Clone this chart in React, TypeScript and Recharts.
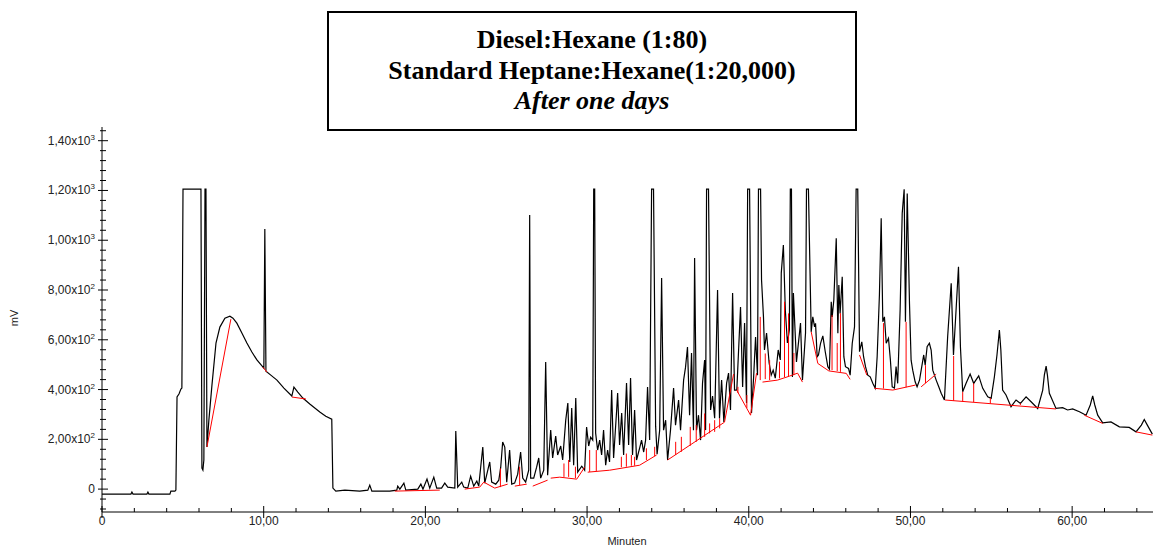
import { LineChart, Line, XAxis, YAxis } from "recharts";

/* ─── Data (retention time in min, detector signal in mV) ───── */

const traceTime = [
  0, 1.79, 1.85, 1.92, 2.78, 2.84, 2.9, 4.2, 4.26, 4.51, 4.57, 4.64, 4.76, 4.88, 4.94, 5.01,
  6.12, 6.18, 6.24, 6.3, 6.37, 6.43, 6.49, 6.61, 6.8, 7.05, 7.29, 7.6, 7.91, 8.1, 8.34, 8.65,
  8.96, 9.27, 9.58, 10.01, 10.07, 10.14, 10.44, 10.82, 11.25, 11.74, 11.87, 12.11, 12.42, 12.85,
  13.47, 13.84, 14.21, 14.28, 14.46, 15.02, 15.94, 16.44, 16.56, 16.69, 17.8, 18.23, 18.29, 18.42,
  18.67, 18.79, 19.53, 19.72, 19.85, 20.1, 20.27, 20.52, 20.7, 21.0, 21.2, 21.38, 21.82, 21.88,
  22.0, 22.25, 22.37, 22.62, 22.8, 22.99, 23.18, 23.3, 23.42, 23.55, 23.67, 23.86, 23.98, 24.1,
  24.35, 24.54, 24.66, 24.78, 24.91, 25.03, 25.21, 25.34, 25.52, 25.71, 25.89, 26.02, 26.2, 26.39,
  26.45, 26.51, 26.7, 26.88, 27.01, 27.13, 27.32, 27.44, 27.56, 27.75, 27.87, 28.06, 28.18, 28.37,
  28.49, 28.68, 28.81, 28.93, 29.05, 29.17, 29.3, 29.42, 29.67, 29.85, 29.97, 30.1, 30.22, 30.35,
  30.41, 30.47, 30.53, 30.65, 30.78, 30.9, 31.02, 31.15, 31.27, 31.39, 31.52, 31.64, 31.83, 31.89,
  32.01, 32.14, 32.26, 32.44, 32.57, 32.69, 32.81, 32.94, 33.06, 33.25, 33.37, 33.5, 33.62, 33.74,
  33.87, 33.99, 34.11, 34.24, 34.33, 34.49, 34.61, 34.73, 34.86, 34.98, 35.16, 35.35, 35.47, 35.66,
  35.78, 35.97, 36.09, 36.21, 36.34, 36.46, 36.58, 36.65, 36.77, 36.89, 37.02, 37.14, 37.27, 37.33,
  37.39, 37.51, 37.64, 37.76, 37.89, 37.95, 38.07, 38.19, 38.32, 38.46, 38.63, 38.75, 38.87, 39.0,
  39.12, 39.26, 39.49, 39.62, 39.74, 39.86, 39.93, 40.05, 40.17, 40.3, 40.42, 40.54, 40.6, 40.73,
  40.79, 40.91, 40.97, 41.1, 41.26, 41.39, 41.51, 41.64, 41.82, 41.95, 42.01, 42.14, 42.26, 42.39,
  42.51, 42.57, 42.64, 42.7, 42.76, 42.95, 43.2, 43.32, 43.51, 43.57, 43.69, 43.86, 43.96, 44.07,
  44.13, 44.23, 44.31, 44.44, 44.58, 44.73, 44.89, 44.99, 45.1, 45.16, 45.26, 45.41, 45.51, 45.57,
  45.65, 45.78, 45.88, 45.98, 46.17, 46.27, 46.4, 46.54, 46.64, 46.74, 46.85, 46.99, 47.1, 47.22,
  47.36, 47.51, 47.67, 47.82, 47.94, 48.08, 48.19, 48.29, 48.39, 48.5, 48.64, 48.76, 48.87, 49.01,
  49.11, 49.21, 49.36, 49.49, 49.61, 49.69, 49.8, 49.94, 50.04, 50.14, 50.29, 50.41, 50.56, 50.82,
  50.91, 51.03, 51.17, 51.28, 51.38, 51.59, 51.75, 51.9, 52.1, 52.3, 52.52, 52.66, 52.82, 52.97,
  53.09, 53.23, 53.44, 53.69, 53.91, 54.22, 54.47, 54.78, 54.99, 55.19, 55.35, 55.5, 55.59, 55.7,
  55.91, 56.22, 56.53, 56.8, 57.15, 57.46, 57.87, 58.18, 58.28, 58.39, 58.47, 58.59, 59.0, 59.41,
  59.72, 60.03, 60.45, 60.86, 61.12, 61.27, 61.4, 61.58, 61.89, 62.4, 62.92, 63.53, 63.95, 64.28,
  64.46, 64.65, 64.96,
];

const traceMv = [
  -20, -20, -12, -20, -20, -12, -20, -20, -8, -8, -4, 370, 382, 402, 406, 1205,
  1205, 84, 76, 117, 1205, 1205, 169, 277, 418, 587, 651, 687, 695, 687, 667, 627,
  587, 551, 519, 486, 1045, 474, 458, 438, 406, 374, 410, 390, 366, 342,
  310, 293, 281, 4, -8, -4, -8, -4, 16, -8, -8, -4, 12, 0,
  24, -4, 0, 20, 0, 40, 4, 48, 4, 4, 24, 8, 4, 233,
  8, 28, 8, 4, 52, 12, 32, 12, 88, 169, 24, 76, 109, 28,
  20, 36, 88, 189, 169, 28, 157, 20, 24, 60, 149, 44, 28, 76,
  1101, 44, 44, 88, 125, 44, 76, 511, 56, 237, 125, 213, 137, 173,
  117, 277, 346, 109, 326, 96, 366, 68, 92, 76, 249, 173, 209, 197,
  1205, 1205, 225, 157, 197, 137, 237, 96, 157, 109, 398, 125, 318, 386,
  177, 306, 137, 426, 177, 446, 137, 318, 117, 165, 197, 149, 197, 410,
  197, 1205, 1205, 253, 140, 237, 848, 237, 277, 117, 237, 406, 257, 358,
  237, 438, 490, 571, 297, 547, 237, 929, 237, 297, 197, 426, 519, 237,
  1205, 1205, 318, 374, 285, 450, 800, 284, 438, 270, 426, 466, 318, 788,
  398, 398, 732, 410, 667, 346, 1205, 1205, 306, 450, 611, 458, 1205, 1205,
  840, 691, 559, 627, 507, 458, 478, 446, 559, 519, 868, 981, 720, 587,
  639, 1205, 1205, 450, 788, 511, 667, 438, 627, 1205, 1205, 632, 692, 652,
  666, 532, 539, 586, 616, 552, 492, 482, 753, 692, 760, 1008, 626, 820,
  706, 853, 532, 492, 485, 458, 586, 652, 1205, 1205, 552, 592, 532, 492,
  458, 451, 425, 405, 532, 780, 1088, 672, 692, 586, 606, 518, 411, 406,
  492, 425, 719, 1108, 1205, 672, 1188, 746, 518, 478, 431, 411, 438, 539,
  498, 572, 586, 559, 478, 438, 411, 385, 358, 612, 827, 539, 719, 893,
  572, 391, 425, 462, 425, 455, 405, 371, 365, 451, 539, 639, 559, 398,
  378, 331, 358, 344, 371, 351, 324, 398, 458, 494, 458, 385, 324, 327,
  318, 322, 311, 297, 338, 375, 338, 297, 266, 270, 250, 248, 230, 257,
  280, 257, 221,
];

// integration baseline, null = gap between segments
const baseTime = [
  6.49, 7.97, 7.97, 9.95, 10.2, 10.2, 11.74, 12.61, 12.61, 18.11, 20.89, 20.89,
  22.43, 23.36, 23.61, 24.29, 25.09, 25.09, 25.53, 26.27, 26.27, 26.64, 27.56, 27.56,
  27.75, 28.31, 29.36, 29.85, 29.85, 30.04, 31.4, 33.25, 34.3, 34.3,
  34.98, 38.5, 39.06, 39.06, 39.25, 40.11, 40.48, 40.48,
  40.85, 41.78, 42.52, 43.02, 43.32, 43.32, 43.86, 44.27, 44.95, 46.03, 46.27, 46.27,
  46.85, 47.3, 47.3, 47.77, 48.91, 50.31, 50.31, 50.66, 51.59, 51.59,
  52.14, 59.0, 59.0, 60.75, 61.89, 61.89, 63.95, 64.96,
];
const baseMv = [
  169, 683, null, 490, 470, null, 370, 362, null, -8, -4, null,
  0, 8, 28, 4, 20, null, 12, 20, null, 12, 36, null,
  44, 48, 40, 88, null, 68, 76, 96, 137, null,
  117, 269, 462, null, 398, 297, 466, null,
  430, 438, 454, 466, 430, null, 632, 505, 475, 465, 441, null,
  539, 458, null, 405, 398, 418, null, 411, 462, null,
  358, 322, null, 297, 264, null, 230, 217,
];

// peak separation drop lines
const dropTime = [
  24.64, 25.83, 28.57, 28.86, 29.28, 30.16, 30.57, 32.12, 32.43, 32.74, 32.94, 33.67, 34.18,
  35.48, 35.83, 36.38, 36.75, 37.27, 37.58, 37.89, 38.2, 39.33, 39.88, 40.71, 41.02, 41.29,
  41.9, 42.21, 42.46, 42.79, 45.15, 45.47, 45.67, 48.33, 49.73, 50.93, 52.67, 53.23, 53.91,
  54.94, 56.8,
];
const dropLow = [
  8, 16, 49, 49, 44, 69, 72, 88, 90, 94, 94, 117, 133,
  137, 150, 174, 190, 210, 224, 230, 244, 386, 326, 438, 442, 438,
  445, 450, 453, 458, 478, 474, 471, 404, 409, 426, 355, 352, 350,
  344, 338,
];
const dropHigh = [
  83, 90, 103, 117, 90, 157, 157, 130, 143, 137, 130, 164, 170,
  190, 210, 250, 257, 304, 264, 277, 284, 411, 378, 692, 545, 518,
  512, 753, 706, 547, 699, 587, 707, 667, 672, 498, 535, 391, 425,
  366, 344,
];

const xTicks = Array.from({ length: 33 }, (_, i) => i * 2);
const yTicks = Array.from({ length: 39 }, (_, i) => -80 + i * 40);

/* ─── Tables ────────────────────────────────────────────────── */

const traceData = traceTime.map((t, i) => ({ t, mv: traceMv[i] }));
const baseData = baseTime.map((t, i) => ({ t, mv: baseMv[i] }));
const dropData = dropTime.flatMap((t, i) => [
  { t, mv: dropLow[i] },
  { t, mv: dropHigh[i] },
  { t, mv: null },
]);

/* ─── Ticks ─────────────────────────────────────────────────── */

function XTick({ x, y, payload }: any) {
  const v = payload.value as number;
  const major = v % 10 === 0;
  return (
    <g>
      <line x1={x} x2={x} y1={y - (major ? 6 : 4)} y2={y + (major ? 6 : 0)} stroke="#000" />
      {major && (
        <text x={x} y={y + 13} textAnchor="middle" fontSize={12} fill="#222">
          {v === 0 ? "0" : `${v},00`}
        </text>
      )}
    </g>
  );
}

function YTick({ x, y, payload }: any) {
  const v = payload.value as number;
  const major = v % 200 === 0;
  let label: any = null;
  if (major) {
    if (v === 0) {
      label = "0";
    } else {
      const exp = v >= 1000 ? 3 : 2;
      const mant = (v / Math.pow(10, exp)).toFixed(2).replace(".", ",");
      label = (
        <>
          {mant}x10
          <tspan dy={-5} fontSize={8}>
            {exp}
          </tspan>
        </>
      );
    }
  }
  return (
    <g>
      <line x1={x - (major ? 4 : 2)} x2={x + (major ? 6 : 4)} y1={y} y2={y} stroke="#000" />
      {label !== null && (
        <text x={x - 7} y={y + 4} textAnchor="end" fontSize={12} fill="#222">
          {label}
        </text>
      )}
    </g>
  );
}

/* ─── Component ─────────────────────────────────────────────── */

export default function App() {
  return (
    <div
      style={{
        position: "absolute",
        left: 0,
        top: 0,
        width: 1153,
        height: 547,
        background: "#fff",
        fontFamily: "'Liberation Sans', Arial, sans-serif",
      }}
    >
      <LineChart
        width={1153}
        height={547}
        margin={{ top: 127, right: 0, left: 0, bottom: 0 }}
      >
        <XAxis
          dataKey="t"
          type="number"
          domain={[0, 65]}
          ticks={xTicks}
          interval={0}
          allowDataOverflow
          height={35}
          tickSize={0}
          tickMargin={0}
          tick={<XTick />}
          axisLine={{ stroke: "#000" }}
        />
        <YAxis
          type="number"
          domain={[-92, 1455]}
          ticks={yTicks}
          interval={0}
          allowDataOverflow
          width={102}
          tickSize={0}
          tickMargin={0}
          tick={<YTick />}
          axisLine={{ stroke: "#000" }}
        />
        <Line
          data={traceData}
          dataKey="mv"
          type="linear"
          stroke="#000"
          strokeWidth={1.2}
          dot={false}
          isAnimationActive={false}
        />
        <Line
          data={baseData}
          dataKey="mv"
          type="linear"
          stroke="#ff0000"
          strokeWidth={1}
          dot={false}
          isAnimationActive={false}
        />
        <Line
          data={dropData}
          dataKey="mv"
          type="linear"
          stroke="#ff0000"
          strokeWidth={1}
          dot={false}
          isAnimationActive={false}
        />
      </LineChart>

      {/* axis titles */}
      <div
        style={{
          position: "absolute",
          left: 14,
          top: 318,
          transform: "translate(-50%, -50%) rotate(-90deg)",
          fontSize: 11,
          color: "#222",
        }}
      >
        mV
      </div>
      <div
        style={{
          position: "absolute",
          left: 627,
          top: 541,
          transform: "translate(-50%, -50%)",
          fontSize: 11,
          color: "#222",
        }}
      >
        Minuten
      </div>

      {/* title box */}
      <div
        style={{
          position: "absolute",
          left: 327,
          top: 11,
          width: 530,
          height: 120,
          boxSizing: "border-box",
          border: "2px solid #000",
          background: "#fff",
          fontFamily: "'Liberation Serif', 'Times New Roman', serif",
          fontSize: 26,
          fontWeight: "bold",
          lineHeight: "30.5px",
          textAlign: "center",
          paddingTop: 12,
        }}
      >
        <div>Diesel:Hexane (1:80)</div>
        <div>Standard Heptane:Hexane(1:20,000)</div>
        <div style={{ fontStyle: "italic" }}>After one days</div>
      </div>
    </div>
  );
}
